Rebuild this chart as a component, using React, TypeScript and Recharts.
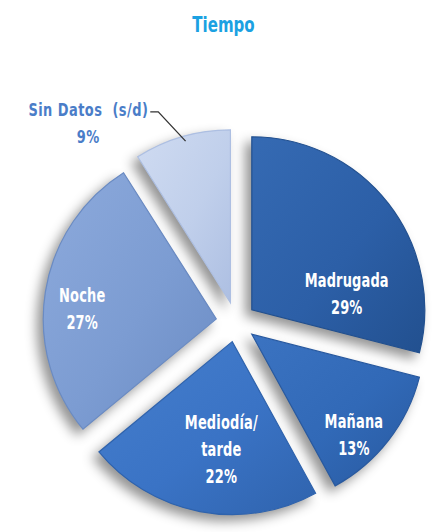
import React from 'react';
import { PieChart, Pie, Cell, Sector } from 'recharts';

// ---- data ----
const categories = ['Madrugada', 'Mañana', 'Mediodía/tarde', 'Noche', 'Sin Datos (s/d)'];
const values = [29, 13, 22, 27, 9];
const labelLines = [['Madrugada'], ['Mañana'], ['Mediodía/', 'tarde'], ['Noche'], ['Sin Datos  (s/d)']];
const title = 'Tiempo';

// ---- styles / layout ----
const sliceLight = ['#356ab3', '#3b73c1', '#467fcd', '#8daadc', '#cfdbf1'];
const sliceBase = ['#2c5fa7', '#3169b7', '#3a73c5', '#7c9cd2', '#c0cfeb'];
const sliceDark = ['#22508f', '#28599f', '#2f63ad', '#6a8bc3', '#adbfe2'];
const labelColors = ['#ffffff', '#ffffff', '#ffffff', '#ffffff', '#4a7dc8'];
// label placement: radius factor (of outer radius) and angle offset from mid angle
const labelPlace = [
  { r: 0.557, a: -27.9 },
  { r: 0.826, a: -6.6 },
  { r: 0.625, a: 5 },
  { r: 0.777, a: 4.7 },
  { r: 1.328, a: 22 },
];
const EXPLODE = 20;
const LINE_H = 27;
const SQUEEZE = 0.76;
const FONT = "'DejaVu Sans Condensed', 'DejaVu Sans', sans-serif";

const chartData = categories.map((name, i) => ({ name, value: values[i] }));

const RAD = Math.PI / 180;
const polar = (cx: number, cy: number, r: number, angle: number) => ({
  x: cx + r * Math.cos(-angle * RAD),
  y: cy + r * Math.sin(-angle * RAD),
});

function renderSlice(props: any) {
  const { cx, cy, outerRadius, startAngle, endAngle, midAngle, index, value } = props;
  const c = polar(cx, cy, EXPLODE, midAngle);
  const place = labelPlace[index];
  const anchor = polar(c.x, c.y, outerRadius * place.r, midAngle + place.a);
  const lines = [...labelLines[index], `${value}%`];
  const n = lines.length;
  const isOutside = index === 4;
  let leader: React.ReactNode = null;
  if (isOutside) {
    const p1 = polar(c.x, c.y, outerRadius * 0.97, midAngle - 0.7);
    const p2 = polar(c.x, c.y, outerRadius * 1.18, midAngle + 4.5);
    leader = (
      <polyline
        points={`${p1.x},${p1.y} ${p2.x},${p2.y} ${p2.x - 8},${p2.y}`}
        fill="none"
        stroke="#333"
        strokeWidth={1.3}
      />
    );
  }
  return (
    <g>
      <defs>
        <linearGradient id={`slg${index}`} x1="0" y1="0" x2="1" y2="1">
          <stop offset="0%" stopColor={sliceLight[index]} />
          <stop offset="55%" stopColor={sliceBase[index]} />
          <stop offset="100%" stopColor={sliceDark[index]} />
        </linearGradient>
      </defs>
      <g style={{ filter: 'drop-shadow(-6px 6px 6px rgba(0,0,0,0.42))' }}>
        <Sector
          cx={c.x}
          cy={c.y}
          innerRadius={0}
          outerRadius={outerRadius}
          startAngle={startAngle}
          endAngle={endAngle}
          fill={`url(#slg${index})`}
          stroke={sliceDark[index]}
          strokeWidth={1.2}
        />
      </g>
      {leader}
      <text
        transform={`translate(${anchor.x},${anchor.y}) scale(${isOutside ? 0.8 : SQUEEZE},1)`}
        textAnchor="middle"
        fontFamily={FONT}
        fontWeight="bold"
        fontSize={isOutside ? 18 : 19}
        letterSpacing={isOutside ? 0.6 : 0.2}
        fill={labelColors[index]}
      >
        {lines.map((t, i) => (
          <tspan key={i} x={0} y={(i - (n - 1) / 2) * LINE_H + 7} style={{ whiteSpace: 'pre' }}>
            {t}
          </tspan>
        ))}
      </text>
    </g>
  );
}

export default function App() {
  return (
    <div style={{ position: 'absolute', left: 0, top: 0, width: 436, height: 532, background: '#fff' }}>
      <svg width={436} height={50} style={{ position: 'absolute', left: 0, top: 0 }}>
        <text
          transform={`translate(223.5,32) scale(${SQUEEZE},1)`}
          textAnchor="middle"
          fontFamily={FONT}
          fontWeight="bold"
          fontSize={22}
          fill="#1ba1e2"
        >
          {title}
        </text>
      </svg>
      <div style={{ position: 'absolute', left: 0, top: 0 }}>
        <PieChart width={436} height={532} margin={{ top: 0, right: 0, bottom: 0, left: 0 }}>
          <Pie
            data={chartData}
            dataKey="value"
            nameKey="name"
            cx={236}
            cy={322}
            innerRadius={0}
            outerRadius={173}
            startAngle={90}
            endAngle={-270}
            stroke="none"
            label={renderSlice}
            labelLine={false}
            isAnimationActive={false}
          >
            {chartData.map((d) => (
              <Cell key={d.name} fill="transparent" />
            ))}
          </Pie>
        </PieChart>
      </div>
    </div>
  );
}
